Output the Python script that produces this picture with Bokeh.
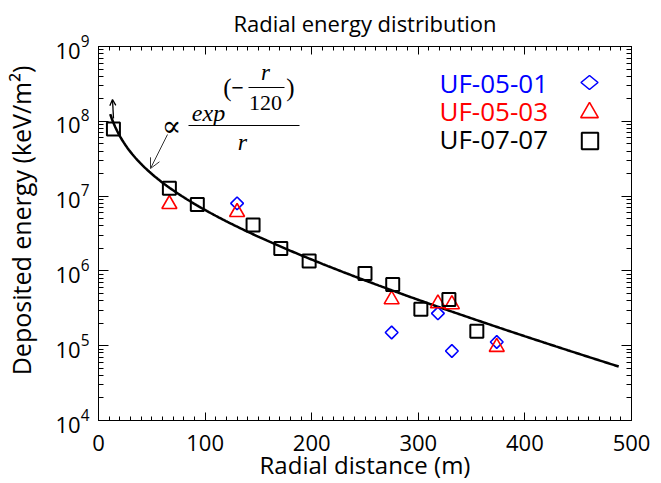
import numpy as np
from bokeh.plotting import figure
from bokeh.models import (Label, Arrow, OpenHead, LinearAxis, LogAxis, FixedTicker,
                          Legend, LegendItem, Range1d, CustomLabelingPolicy, PolyAnnotation)
from bokeh.embed import file_html
from bokeh.resources import INLINE

# ---------------- data ----------------
title_text = "Radial energy distribution"
x_label = "Radial distance (m)"
y_label = "Deposited energy (keV/m²)"
series_names = ["UF-05-01", "UF-05-03", "UF-07-07"]
series_colors = ["#0000ff", "#ff0000", "#000000"]

r_0501 = [130.0, 275.0, 318.4, 331.5, 373.6]
e_0501 = [8.0e6, 1.5e5, 2.7e5, 8.5e4, 1.12e5]

r_0503 = [66.5, 130.0, 275.0, 318.4, 331.5, 373.6]
e_0503 = [7.8e6, 6.1e6, 4.15e5, 3.67e5, 3.57e5, 9.6e4]

r_0707 = [14.0, 66.5, 92.7, 145.0, 171.0, 197.6, 250.0, 276.0, 302.4, 328.7, 354.9]
e_0707 = [7.9e7, 1.27e7, 7.7e6, 4.1e6, 2.0e6, 1.36e6, 9.2e5, 6.6e5, 3.06e5, 4.15e5, 1.56e5]

# fitted model shown in the chart: E ∝ exp(-r/120)/r
fit_scale = 1.5e9
fit_length = 120.0
fit_r_start = 11.0
fit_r_end = 488.0

x_major = [0, 100, 200, 300, 400, 500]
x_minor = [v for v in range(0, 501, 10) if v % 100]
y_major = [1e4, 1e5, 1e6, 1e7, 1e8, 1e9]
y_minor = [m * 10.0 ** k for k in range(4, 9) for m in range(2, 10)]

r_fit = np.linspace(fit_r_start, fit_r_end, 300)
e_fit = fit_scale * np.exp(-r_fit / fit_length) / r_fit

# ---------------- figure ----------------
FONT = "Open Sans"
p = figure(width=661, height=483, x_range=Range1d(0, 500), y_range=Range1d(1e4, 1e9),
           y_axis_type="log", output_backend="svg", toolbar_location=None,
           min_border_left=97, min_border_right=30, min_border_top=43, min_border_bottom=63,
           title=title_text)
p.title.align = "center"
p.title.text_font = FONT
p.title.text_font_size = "22px"
p.title.text_font_style = "normal"
p.title.text_color = "black"
p.title.offset = -6
p.title.standoff = 10
p.grid.visible = False
p.outline_line_color = "black"
p.outline_line_width = 1
p.background_fill_color = "white"
p.border_fill_color = "white"

no_labels = CustomLabelingPolicy(code="for (const i of indices) indices.unset(i); return indices")

def style_axis(ax, ticks, minor, tick_in, minor_in, labels=True):
    ax.ticker = FixedTicker(ticks=ticks, minor_ticks=minor)
    ax.axis_line_color = "black"
    ax.major_tick_line_color = "black"
    ax.minor_tick_line_color = "black"
    ax.major_tick_in = tick_in
    ax.major_tick_out = 0
    ax.minor_tick_in = minor_in
    ax.minor_tick_out = 0
    if labels:
        ax.major_label_text_font = FONT
        ax.major_label_text_font_size = "22px"
        ax.major_label_text_color = "black"
        ax.axis_label_text_font = FONT
        ax.axis_label_text_font_style = "normal"
        ax.axis_label_text_color = "black"
    else:
        ax.major_label_policy = no_labels
        ax.major_label_text_font_size = "1px"
        ax.major_label_standoff = 0
        ax.axis_label_standoff = 0

style_axis(p.xaxis[0], x_major, x_minor, 8, 4)
p.xaxis[0].axis_label = x_label
p.xaxis[0].axis_label_text_font_size = "24px"
p.xaxis[0].major_label_standoff = 14
p.xaxis[0].axis_label_standoff = -6
style_axis(p.yaxis[0], y_major, y_minor, 10, 5)
# leading no-break spaces shift the centred label upward, as in the original
p.yaxis[0].axis_label = "\u00a0\u00a0\u00a0\u00a0" + y_label
p.yaxis[0].axis_label_text_font_size = "25px"
p.yaxis[0].major_label_standoff = 9
p.yaxis[0].axis_label_standoff = 15

top_ax = LinearAxis()
style_axis(top_ax, x_major, x_minor, 8, 4, labels=False)
p.add_layout(top_ax, "above")
right_ax = LogAxis()
style_axis(right_ax, y_major, y_minor, 10, 5, labels=False)
p.add_layout(right_ax, "right")

# ---------------- glyphs ----------------
p.line(r_fit, e_fit, line_color="black", line_width=2.5)

r_d = p.scatter(r_0501, e_0501, marker="square", angle=np.pi / 4, size=9,
                line_color=series_colors[0], fill_color=None, line_width=1.6)
r_t = p.scatter(r_0503, e_0503, marker="triangle", size=15,
                line_color=series_colors[1], fill_color=None, line_width=1.6)
r_s = p.scatter(r_0707, e_0707, marker="square", size=13,
                line_color=series_colors[2], fill_color=None, line_width=2)

# ---------------- screen helpers (frame-relative) ----------------
FL, FB = 97, 420   # frame left / bottom in page px
def sx(X):
    return X - FL
def sy(Y):
    return FB - Y

# ---------------- legend (text left, key right) ----------------
legend_rows_y = [82, 110, 138]
legend_key_x = 588
for name, color, yy in zip(series_names, series_colors, legend_rows_y):
    p.add_layout(Label(x=sx(438), y=sy(yy), x_units="screen", y_units="screen", text=name,
                       text_color=color, text_font=FONT, text_font_size="26px",
                       text_align="left", text_baseline="middle"))

# diamond key (drawn as a wide rhombus, as in the original)
dk_w, dk_h = 8.5, 7.0
p.add_layout(PolyAnnotation(
    xs=[sx(legend_key_x - dk_w), sx(legend_key_x), sx(legend_key_x + dk_w), sx(legend_key_x)],
    ys=[sy(82), sy(82 - dk_h), sy(82), sy(82 + dk_h)],
    xs_units="screen", ys_units="screen", fill_color=None, fill_alpha=0,
    line_color=series_colors[0], line_alpha=1.0, line_width=1.6))

for rend, yy, g in zip([r_t, r_s], [112, 140], [44, 41]):
    lg = Legend(items=[LegendItem(label=" ", renderers=[rend])],
                location=(legend_key_x - FL - g / 2, FB - (yy + g / 2)),
                glyph_width=g, glyph_height=g, padding=0, spacing=0,
                label_text_font_size="12px", label_text_color=None,
                border_line_color=None, background_fill_alpha=0)
    p.add_layout(lg, "center")

# ---------------- formula annotation ----------------
SERIF = "Liberation Serif"
def lab(X, Y, t, size, style="italic", font=SERIF):
    p.add_layout(Label(x=sx(X), y=sy(Y), x_units="screen", y_units="screen", text=t,
                       text_font=font, text_font_size=size, text_font_style=style,
                       text_color="black", text_align="center", text_baseline="middle"))

lab(170, 125, "∝", "29px", "normal", "DejaVu Serif")
lab(207, 112, "exp", "24px")
lab(241, 141, "r", "24px")
lab(226, 87, "(", "25px", "normal")
lab(236, 87, "−", "22px", "bold")
lab(264, 72, "r", "23px")
lab(264, 102, "120", "22px", "normal")
lab(289, 87, ")", "25px", "normal")

p.add_layout(Arrow(end=None, x_start=sx(187), y_start=sy(125), x_end=sx(298), y_end=sy(125),
                   start_units="screen", end_units="screen", line_width=1.2, line_color="black"))
p.add_layout(Arrow(end=None, x_start=sx(247), y_start=sy(87), x_end=sx(283), y_end=sy(87),
                   start_units="screen", end_units="screen", line_width=1.2, line_color="black"))
p.add_layout(Arrow(end=OpenHead(size=10, line_width=1, line_color="#333333"),
                   x_start=sx(166), y_start=sy(134), x_end=sx(149), y_end=sy(168),
                   start_units="screen", end_units="screen", line_width=1, line_color="#333333"))
p.add_layout(Arrow(end=OpenHead(size=6, line_width=1.3, line_color="black"),
                   x_start=sx(112), y_start=sy(118), x_end=sx(111), y_end=sy(99),
                   start_units="screen", end_units="screen", line_width=1.3, line_color="black"))

open("out.html", "w").write(file_html(p, INLINE))
